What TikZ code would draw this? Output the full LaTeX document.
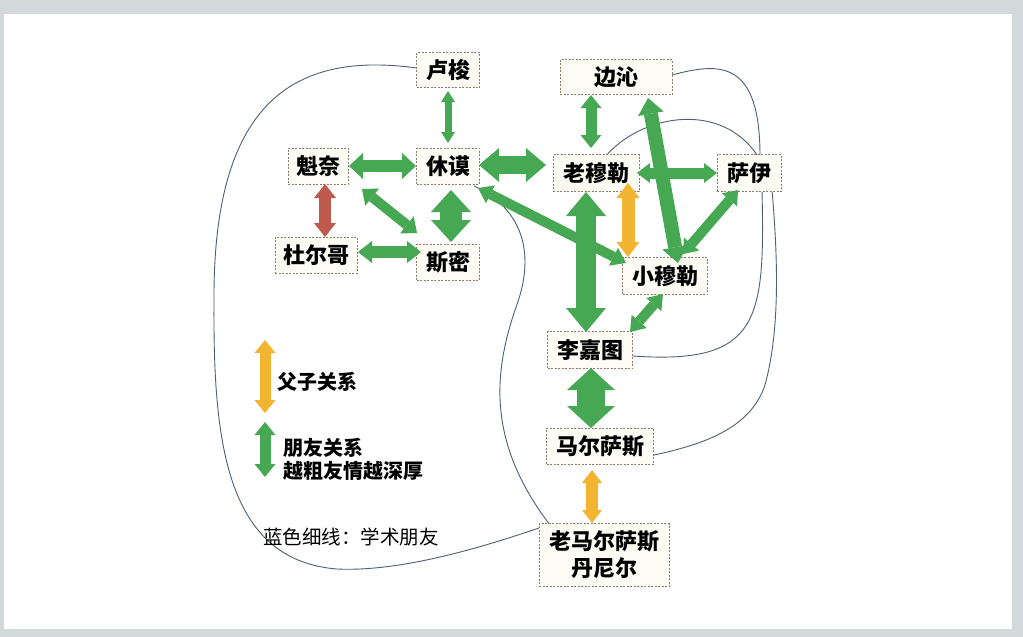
\documentclass[tikz,border=0pt]{standalone}
\usepackage{fontspec}
\setmainfont{Noto Sans CJK SC}
\usetikzlibrary{arrows.meta,backgrounds,calc}
\definecolor{bggray}{HTML}{D3D8DB}
\definecolor{boxc}{HTML}{8C7B6B}
\definecolor{boxfill}{HTML}{FDFCF4}
\definecolor{fgreen}{HTML}{46A853}
\definecolor{fred}{HTML}{BF5A4E}
\definecolor{fyellow}{HTML}{F2B431}
\definecolor{acad}{HTML}{4F6070}
\tikzset{
  pbox/.style={draw=boxc, dash pattern=on 2pt off 1.5pt, line width=0.6pt, fill=boxfill,
    inner sep=0pt, font=\bfseries\fontsize{22}{27}\selectfont, align=center},
  dbl/.style n args={3}{line width=#1pt,
    arrows={Triangle[width=#2pt,length=#3pt,line width=0pt]-Triangle[width=#2pt,length=#3pt,line width=0pt]}},
  ga/.style={draw=fgreen, fill=fgreen},
  ra/.style={draw=fred, fill=fred},
  ya/.style={draw=fyellow, fill=fyellow},
  acline/.style={draw=acad, line width=0.9pt},
  legtext/.style={anchor=west, inner sep=0pt, font=\bfseries\fontsize{20}{23}\selectfont, align=left},
}
\begin{document}
\begin{tikzpicture}[x=1pt,y=-1pt]
\useasboundingbox (0,0) rectangle (1023,637);
% nodes
\node[pbox, minimum width=63pt, minimum height=35pt] (ls) at (448,70) {卢梭};
\node[pbox, minimum width=60pt, minimum height=36pt] (kn) at (318,166) {魁奈};
\node[pbox, minimum width=63pt, minimum height=36pt] (xm) at (448,166) {休谟};
\node[pbox, minimum width=82pt, minimum height=36pt] (de) at (316,255) {杜尔哥};
\node[pbox, minimum width=63pt, minimum height=36pt] (sm) at (448,262) {斯密};
\node[pbox, minimum width=112pt, minimum height=35pt] (bq) at (616,77) {边沁};
\node[pbox, minimum width=86pt, minimum height=37pt] (lml) at (596,173) {老穆勒};
\node[pbox, minimum width=64pt, minimum height=37pt] (sy) at (749,173) {萨伊};
\node[pbox, minimum width=85pt, minimum height=37pt] (xml) at (665,276) {小穆勒};
\node[pbox, minimum width=85pt, minimum height=37pt] (ljt) at (590,350) {李嘉图};
\node[pbox, minimum width=107pt, minimum height=36pt] (mes) at (600,446) {马尔萨斯};
\node[pbox, minimum width=130pt, minimum height=63pt] (lmes) at (604,555) {老马尔萨斯\\丹尼尔};
% legend
\coordinate (ly1) at (265,340);
\coordinate (ly2) at (265,413);
\coordinate (lg1) at (265,422);
\coordinate (lg2) at (265,477);
\node[legtext] (t1) at (277,382) {父子关系};
\node[legtext] (t2) at (283,459) {朋友关系\\越粗友情越深厚};
\node[anchor=west, inner sep=0pt, font=\fontsize{19.5}{23}\selectfont] (t3) at (263,537) {蓝色细线：学术朋友};
% arrows
\draw[ga, dbl={7}{14}{11}] ([shift={(0,21)}]ls.center) -- ([shift={(0,-23)}]xm.center);
\draw[ga, dbl={12}{26}{14}] ([shift={(31,0)}]kn.center) -- ([shift={(-32,0)}]xm.center);
\draw[ga, dbl={18}{34}{20}] ([shift={(31,-1)}]xm.center) -- ([shift={(-50,-8)}]lml.center);
\draw[ga, dbl={10}{22}{13}] ([shift={(44,23)}]kn.center) -- ([shift={(-31,-29)}]sm.center);
\draw[ga, dbl={22}{40}{22}] ([shift={(3,24)}]xm.center) -- ([shift={(3,-20)}]sm.center);
\draw[ra, dbl={12}{22}{14}] ([shift={(7,18)}]kn.center) -- ([shift={(9,-18)}]de.center);
\draw[ga, dbl={12}{22}{14}] ([shift={(42,-3)}]de.center) -- ([shift={(-27,-10)}]sm.center);
\draw[ga, dbl={11}{21}{13}] ([shift={(-25,18)}]bq.center) -- ([shift={(-5,-25)}]lml.center);
\draw[ga, dbl={11}{20}{13}] ([shift={(41,0)}]lml.center) -- ([shift={(-32,0)}]sy.center);
\draw[ga, dbl={14}{26}{16}] ([shift={(32,21)}]bq.center) -- ([shift={(13,-13)}]xml.center);
\draw[ga, dbl={10}{20}{13}] ([shift={(-11,17)}]sy.center) -- ([shift={(18,-22)}]xml.center);
\draw[ya, dbl={13}{23}{15}] ([shift={(32,10)}]lml.center) -- ([shift={(-37,-19)}]xml.center);
\draw[ga, dbl={10}{20}{14}] ([shift={(30,22)}]xm.center) -- ([shift={(-39,-13)}]xml.center);
\draw[ga, dbl={20}{40}{24}] ([shift={(-10,19)}]lml.center) -- ([shift={(-4,-18)}]ljt.center);
\draw[ga, dbl={10}{20}{14}] ([shift={(-2,18)}]xml.center) -- ([shift={(40,-18)}]ljt.center);
\draw[ga, dbl={28}{48}{22}] ([shift={(1,18)}]ljt.center) -- ([shift={(-9,-18)}]mes.center);
\draw[ya, dbl={12}{20}{13}] ([shift={(-8,24)}]mes.center) -- ([shift={(-12,-32)}]lmes.center);
\draw[ya, dbl={11}{21}{13}] (ly1) -- (ly2);
\draw[ga, dbl={11}{21}{13}] (lg1) -- (lg2);
% background and academic lines
\begin{scope}[on background layer]
\fill[bggray] (0,0) rectangle (1023,637);
\fill[white] (4,14) rectangle (1012,629);
\draw[acline] ([shift={(-31,-2)}]ls.center) .. controls (300,52) and (213,95) .. (214,300)
  .. controls (213,440) and (225,560) .. (337,569)
  .. controls (400,572) and (480,548) .. ([shift={(-65,-27)}]lmes.center);
\draw[acline] ([shift={(26,20)}]xm.center) .. controls (515,205) and (540,245) .. (515,310)
  .. controls (495,370) and (485,440) .. ([shift={(-54,-30)}]lmes.center);
\draw[acline] ([shift={(56,-2)}]bq.center) .. controls (720,62) and (760,60) .. ([shift={(11,-17)}]sy.center);
\draw[acline] ([shift={(9,-16)}]lml.center) .. controls (640,115) and (720,100) .. ([shift={(8,-18)}]sy.center);
\draw[acline] ([shift={(13,17)}]sy.center) .. controls (765,320) and (760,365) .. ([shift={(43,6)}]ljt.center);
\draw[acline] ([shift={(23,17)}]sy.center) .. controls (778,260) and (780,330) .. (765,385)
  .. controls (750,430) and (700,445) .. ([shift={(54,9)}]mes.center);
\end{scope}
\end{tikzpicture}
\end{document}
